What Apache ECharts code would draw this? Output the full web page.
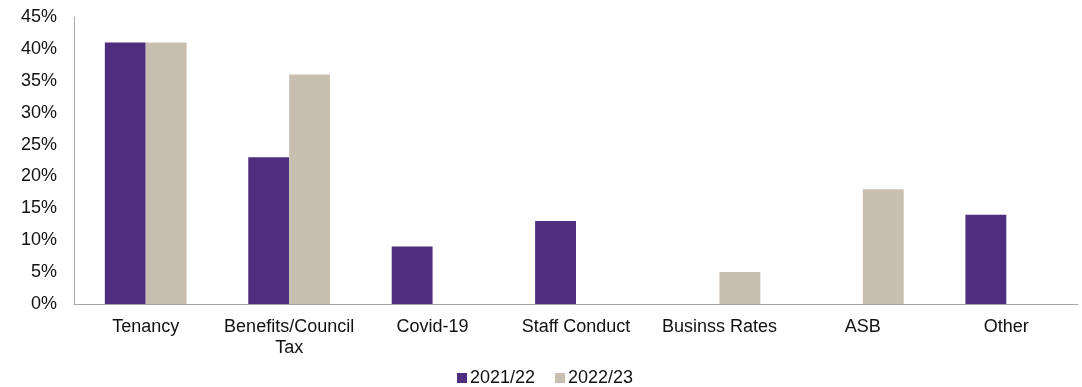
<!DOCTYPE html>
<html><head><meta charset="utf-8">
<script src="https://cdn.jsdelivr.net/npm/echarts@6/dist/echarts.min.js"></script>
<style>html,body{margin:0;padding:0;background:#fff}#c{width:1082px;height:387px}</style>
</head><body><div id="c"></div>
<script>
const categories = ["Tenancy", "Benefits/Council\nTax", "Covid-19", "Staff Conduct", "Businss Rates", "ASB", "Other"];
const series2122 = [41, 23, 9, 13, 0, 0, 14];
const series2223 = [41, 36, 0, 0, 5, 18, 0];
const seriesNames = ["2021/22", "2022/23"];
const yTicks = [0, 5, 10, 15, 20, 25, 30, 35, 40, 45];

const chart = echarts.init(document.getElementById('c'), null, {renderer: 'canvas'});
const font = 'Liberation Sans, Arial, sans-serif';
chart.setOption({
  animation: false,
  textStyle: {fontFamily: font},
  grid: {left: 74, right: 4, top: 17, bottom: 83},
  legend: {
    top: 369, left: 457, padding: 0, itemWidth: 10, itemHeight: 10, itemGap: 20,
    icon: 'rect',
    textStyle: {fontSize: 18, color: '#111', fontFamily: font, padding: [0,0,0,-2]},
    data: seriesNames
  },
  xAxis: {
    type: 'category', data: categories,
    axisLine: {lineStyle: {color: '#a6a6a6', width: 1}},
    axisTick: {show: false},
    axisLabel: {fontSize: 18, color: '#111', fontFamily: font, margin: 13, lineHeight: 21, interval: 0}
  },
  yAxis: {
    type: 'value', min: 0, max: 45, interval: 5,
    axisLine: {show: true, lineStyle: {color: '#a6a6a6', width: 1}},
    axisTick: {show: false},
    splitLine: {show: false},
    axisLabel: {fontSize: 18, color: '#111', fontFamily: font, margin: 17,
      formatter: v => yTicks.includes(v) ? v + '%' : ''}
  },
  series: [
    {name: seriesNames[0], type: 'bar', data: series2122, barGap: '0%', barCategoryGap: '43%',
     itemStyle: {color: '#4F2D7F'}},
    {name: seriesNames[1], type: 'bar', data: series2223,
     itemStyle: {color: '#C9BFB1'}}
  ]
});
</script></body></html>
